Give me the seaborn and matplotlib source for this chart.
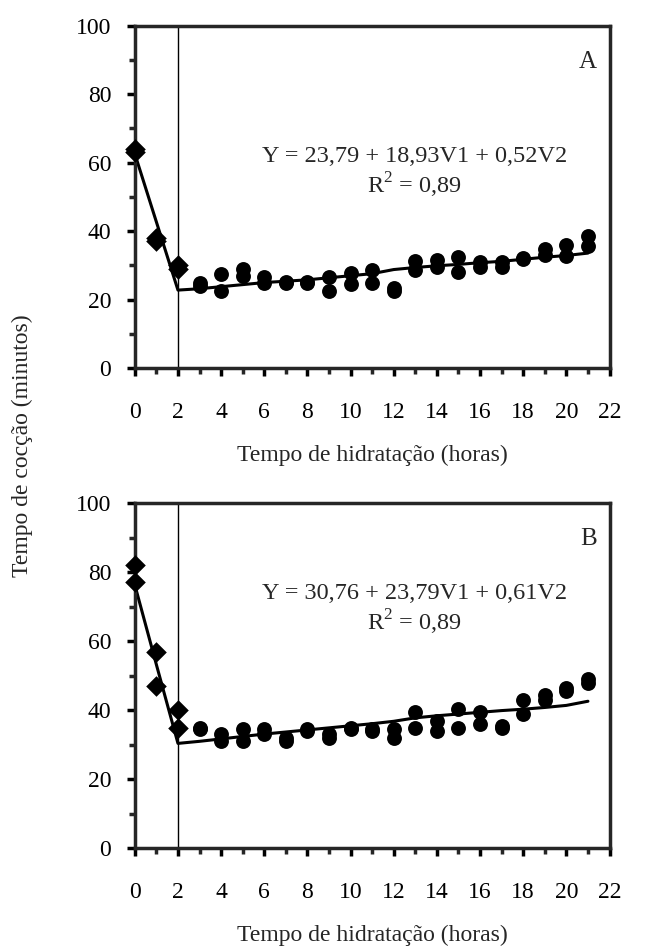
import numpy as np
import pandas as pd
import matplotlib
matplotlib.use("Agg")
import matplotlib.pyplot as plt
import seaborn as sns
from matplotlib.ticker import MultipleLocator

# horas de hidratacao
x_diam = [0, 0, 1, 1, 2, 2]
x_circ = [3, 3, 4, 4, 5, 5, 6, 6, 7, 7, 8, 8, 9, 9, 10, 10, 11, 11, 12, 12,
          13, 13, 14, 14, 15, 15, 16, 16, 17, 17, 18, 18, 19, 19, 20, 20, 21, 21]
x_line = list(range(0, 22))

# painel A
a_diam = [64, 63, 38, 37, 30, 29]
a_circ = [25, 24, 27.5, 22.5, 29, 27, 26.5, 25, 25.2, 24.8, 25.2, 24.8,
          26.7, 22.5, 27.7, 24.6, 28.8, 24.8, 23.5, 22.5,
          31.3, 28.6, 31.5, 29.6, 32.5, 28.2, 31, 29.6, 31, 29.6,
          32.3, 32, 34.7, 33, 35.9, 32.7, 38.5, 35.6]
a_line = [62.6, 42.7, 22.8, 23.2, 23.8, 24.4, 25.0, 25.4, 25.8, 26.4, 27.0,
          27.6, 28.8, 29.4, 29.9, 30.3, 30.8, 31.2, 31.8, 32.4, 32.9, 33.6]

# painel B
b_diam = [82, 77, 57, 47, 40, 35]
b_circ = [35, 34.5, 33, 31, 34.5, 31, 34.5, 33, 32, 31, 34.5, 34,
          33, 32, 35, 34.5, 34.5, 34, 34.5, 32,
          39.5, 35, 37, 34, 40.5, 35, 39.5, 36, 35.5, 35,
          43, 39, 44.5, 43, 46.5, 45.5, 49, 48]
b_line = [76.3, 53.2, 30.4, 31.0, 31.7, 32.4, 33.1, 33.7, 34.3, 34.9, 35.5,
          36.1, 36.8, 37.8, 38.4, 38.9, 39.4, 39.9, 40.3, 40.8, 41.4, 42.6]

eqs = ["Y = 23,79 + 18,93V1 + 0,52V2\nR$^2$ = 0,89",
       "Y = 30,76 + 23,79V1 + 0,61V2\nR$^2$ = 0,89"]
letters = ["A", "B"]
eq_y = [0.57, 0.69]

sns.set_style("ticks")
plt.rcParams["font.family"] = ["Liberation Serif", "DejaVu Serif"]
plt.rcParams["mathtext.fontset"] = "custom"
plt.rcParams["mathtext.rm"] = "Liberation Serif"

fig = plt.figure(figsize=(6.45, 9.49), dpi=100)
ax1 = fig.add_axes([0.209, 0.612, 0.736, 0.361])
ax2 = fig.add_axes([0.209, 0.106, 0.736, 0.364])

panels = [(ax1, a_diam, a_circ, a_line), (ax2, b_diam, b_circ, b_line)]
for i, (ax, yd, yc, yl) in enumerate(panels):
    ax.axvline(2, color="black", lw=1)
    sns.lineplot(x=x_line, y=yl, ax=ax, color="black", lw=2.2)
    # diamonds sit on the spine at x=0, dont clip them
    sns.scatterplot(x=x_diam, y=yd, ax=ax, marker="D", s=110, color="black",
                    edgecolor="black", linewidth=0, clip_on=False, zorder=5)
    sns.scatterplot(x=x_circ, y=yc, ax=ax, marker="o", s=115, color="black",
                    edgecolor="black", linewidth=0, clip_on=False, zorder=5)
    ax.set_xlim(0, 22)
    ax.set_ylim(0, 100)
    ax.xaxis.set_major_locator(MultipleLocator(2))
    ax.xaxis.set_minor_locator(MultipleLocator(1))
    ax.yaxis.set_major_locator(MultipleLocator(20))
    ax.yaxis.set_minor_locator(MultipleLocator(10))
    for s in ax.spines.values():
        s.set_visible(True)
        s.set_linewidth(2.5)
    ax.tick_params(which="major", length=6, width=2.5, labelsize=17,
                   direction="out", colors="black")
    ax.tick_params(axis="x", which="major", pad=18)
    ax.tick_params(axis="y", which="major", pad=11)
    ax.tick_params(which="minor", length=4, width=2.5, direction="out")
    ax.tick_params(top=False, right=False, which="both")
    ax.set_xlabel("Tempo de hidratação (horas)", fontsize=17, labelpad=16)
    ax.text(0.59, eq_y[i], eqs[i], transform=ax.transAxes, ha="center",
            va="center", fontsize=17.5, linespacing=1.15)
    ax.text(0.955, 0.895, letters[i], transform=ax.transAxes, ha="center",
            va="center", fontsize=18)

fig.text(0.034, 0.53, "Tempo de cocção (minutos)", rotation=90,
         ha="center", va="center", fontsize=17)

fig.savefig("out.png", dpi=100)
